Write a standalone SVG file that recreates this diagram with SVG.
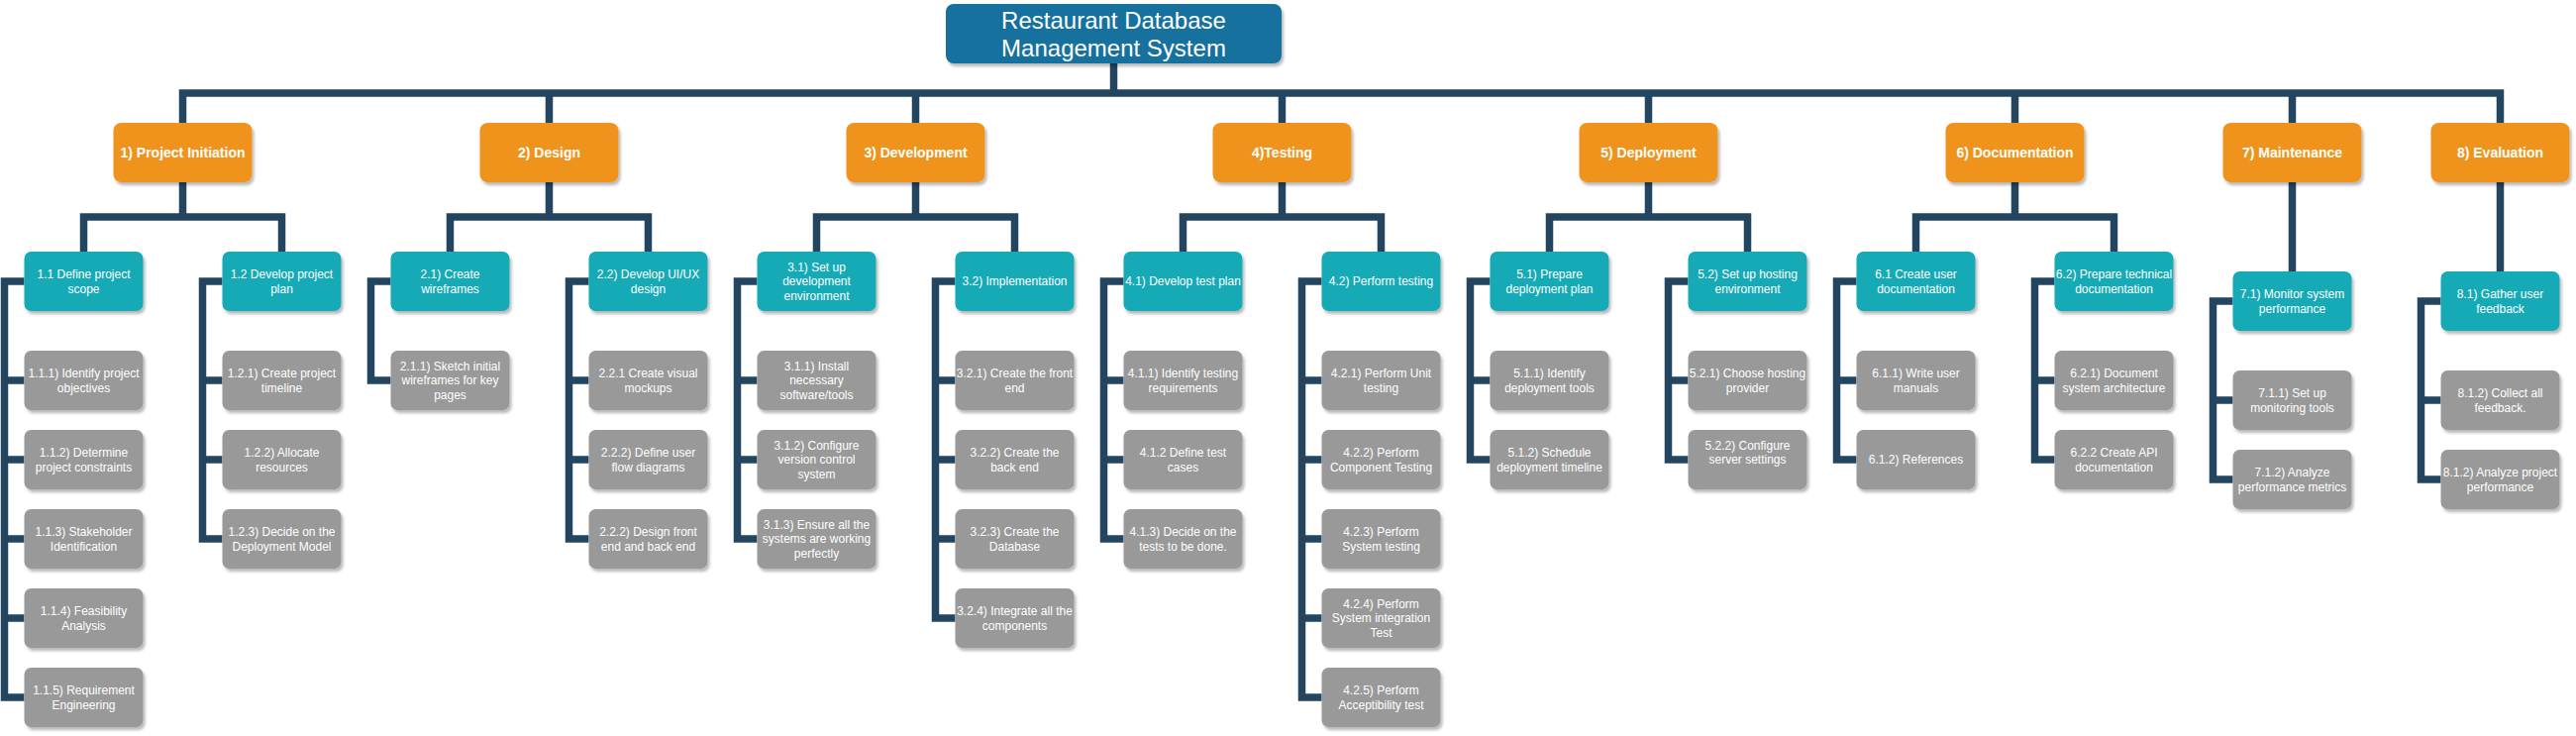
<svg xmlns="http://www.w3.org/2000/svg" width="2601" height="743" viewBox="0 0 2601 743">
<defs>
<filter id="sh" x="-20%" y="-20%" width="140%" height="150%">
<feDropShadow dx="2" dy="3" stdDeviation="1.6" flood-color="#000" flood-opacity="0.28"/>
</filter>
<style>
.title{fill:#12719e;filter:url(#sh)}
.l1{fill:#f0931f;filter:url(#sh)}
.l2{fill:#13aab7;filter:url(#sh)}
.l3{fill:#999999;filter:url(#sh)}
text{font-family:"Liberation Sans",Arial,sans-serif;fill:#fff;text-anchor:middle}
.tt{font-size:24px}
.tb{font-size:14px;font-weight:bold}
.ts{font-size:12px}
.c{fill:none;stroke:#234560;stroke-width:7.5;stroke-linejoin:miter;stroke-linecap:butt}
</style>
</defs>
<rect width="2601" height="743" fill="#fff"/>
<g id="connectors" class="c">
<path d="M1124.5 64V94"/>
<path d="M184.5 124V94H2524.5V124"/>
<path d="M554.5 94V124M924.5 94V124M1294.5 94V124M1664.5 94V124M2034.5 94V124M2314.5 94V124"/>
<path d="M184.5 184V219M84.5 254V219H284.5V254"/>
<path d="M554.5 184V219M454.5 254V219H654.5V254"/>
<path d="M924.5 184V219M824.5 254V219H1024.5V254"/>
<path d="M1294.5 184V219M1194.5 254V219H1394.5V254"/>
<path d="M1664.5 184V219M1564.5 254V219H1764.5V254"/>
<path d="M2034.5 184V219M1934.5 254V219H2134.5V254"/>
<path d="M2314.5 184V274M2524.5 184V274"/>
<path d="M24.5 284H4.5V704H24.5M4.5 384H24.5M4.5 464H24.5M4.5 544H24.5M4.5 624H24.5"/>
<path d="M224.5 284H204.5V544H224.5M204.5 384H224.5M204.5 464H224.5"/>
<path d="M394.5 284H374.5V384H394.5"/>
<path d="M594.5 284H574.5V544H594.5M574.5 384H594.5M574.5 464H594.5"/>
<path d="M764.5 284H744.5V544H764.5M744.5 384H764.5M744.5 464H764.5"/>
<path d="M964.5 284H944.5V624H964.5M944.5 384H964.5M944.5 464H964.5M944.5 544H964.5"/>
<path d="M1134.5 284H1114.5V544H1134.5M1114.5 384H1134.5M1114.5 464H1134.5"/>
<path d="M1334.5 284H1314.5V704H1334.5M1314.5 384H1334.5M1314.5 464H1334.5M1314.5 544H1334.5M1314.5 624H1334.5"/>
<path d="M1504.5 284H1484.5V464H1504.5M1484.5 384H1504.5"/>
<path d="M1704.5 284H1684.5V464H1704.5M1684.5 384H1704.5"/>
<path d="M1874.5 284H1854.5V464H1874.5M1854.5 384H1874.5"/>
<path d="M2074.5 284H2054.5V464H2074.5M2054.5 384H2074.5"/>
<path d="M2254.5 304H2234.5V484H2254.5M2234.5 404H2254.5"/>
<path d="M2464.5 304H2444.5V484H2464.5M2444.5 404H2464.5"/>
</g>
<g id="root"><rect class="title" x="955" y="4" width="339" height="60" rx="8"/><text class="tt" x="1124.5"><tspan x="1124.5" y="28.6">Restaurant Database</tspan><tspan x="1124.5" y="56.6">Management System</tspan></text></g>
<g id="n1"><rect class="l1" x="114.5" y="124" width="140" height="60" rx="8"/><text class="tb" x="184.5" y="159">1) Project Initiation</text></g>
<g id="n2"><rect class="l1" x="484.5" y="124" width="140" height="60" rx="8"/><text class="tb" x="554.5" y="159">2) Design</text></g>
<g id="n3"><rect class="l1" x="854.5" y="124" width="140" height="60" rx="8"/><text class="tb" x="924.5" y="159">3) Development</text></g>
<g id="n4"><rect class="l1" x="1224.5" y="124" width="140" height="60" rx="8"/><text class="tb" x="1294.5" y="159">4)Testing</text></g>
<g id="n5"><rect class="l1" x="1594.5" y="124" width="140" height="60" rx="8"/><text class="tb" x="1664.5" y="159">5) Deployment</text></g>
<g id="n6"><rect class="l1" x="1964.5" y="124" width="140" height="60" rx="8"/><text class="tb" x="2034.5" y="159">6) Documentation</text></g>
<g id="n7"><rect class="l1" x="2244.5" y="124" width="140" height="60" rx="8"/><text class="tb" x="2314.5" y="159">7) Maintenance</text></g>
<g id="n8"><rect class="l1" x="2454.5" y="124" width="140" height="60" rx="8"/><text class="tb" x="2524.5" y="159">8) Evaluation</text></g>

<g id="n1_1"><rect class="l2" x="24.5" y="254" width="120" height="60" rx="7"/><text class="ts"><tspan x="84.5" y="281">1.1 Define project</tspan><tspan x="84.5" y="295.5">scope</tspan></text></g>
<g id="n1_1_1"><rect class="l3" x="24.5" y="354" width="120" height="60" rx="7"/><text class="ts"><tspan x="84.5" y="381">1.1.1) Identify project</tspan><tspan x="84.5" y="395.5">objectives</tspan></text></g>
<g id="n1_1_2"><rect class="l3" x="24.5" y="434" width="120" height="60" rx="7"/><text class="ts"><tspan x="84.5" y="461">1.1.2) Determine</tspan><tspan x="84.5" y="475.5">project constraints</tspan></text></g>
<g id="n1_1_3"><rect class="l3" x="24.5" y="514" width="120" height="60" rx="7"/><text class="ts"><tspan x="84.5" y="541">1.1.3) Stakeholder</tspan><tspan x="84.5" y="555.5">Identification</tspan></text></g>
<g id="n1_1_4"><rect class="l3" x="24.5" y="594" width="120" height="60" rx="7"/><text class="ts"><tspan x="84.5" y="621">1.1.4) Feasibility</tspan><tspan x="84.5" y="635.5">Analysis</tspan></text></g>
<g id="n1_1_5"><rect class="l3" x="24.5" y="674" width="120" height="60" rx="7"/><text class="ts"><tspan x="84.5" y="701">1.1.5) Requirement</tspan><tspan x="84.5" y="715.5">Engineering</tspan></text></g>

<g id="n1_2"><rect class="l2" x="224.5" y="254" width="120" height="60" rx="7"/><text class="ts"><tspan x="284.5" y="281">1.2 Develop project</tspan><tspan x="284.5" y="295.5">plan</tspan></text></g>
<g id="n1_2_1"><rect class="l3" x="224.5" y="354" width="120" height="60" rx="7"/><text class="ts"><tspan x="284.5" y="381">1.2.1) Create project</tspan><tspan x="284.5" y="395.5">timeline</tspan></text></g>
<g id="n1_2_2"><rect class="l3" x="224.5" y="434" width="120" height="60" rx="7"/><text class="ts"><tspan x="284.5" y="461">1.2.2) Allocate</tspan><tspan x="284.5" y="475.5">resources</tspan></text></g>
<g id="n1_2_3"><rect class="l3" x="224.5" y="514" width="120" height="60" rx="7"/><text class="ts"><tspan x="284.5" y="541">1.2.3) Decide on the</tspan><tspan x="284.5" y="555.5">Deployment Model</tspan></text></g>

<g id="n2_1"><rect class="l2" x="394.5" y="254" width="120" height="60" rx="7"/><text class="ts"><tspan x="454.5" y="281">2.1) Create</tspan><tspan x="454.5" y="295.5">wireframes</tspan></text></g>
<g id="n2_1_1"><rect class="l3" x="394.5" y="354" width="120" height="60" rx="7"/><text class="ts"><tspan x="454.5" y="373.8">2.1.1) Sketch initial</tspan><tspan x="454.5" y="388.3">wireframes for key</tspan><tspan x="454.5" y="402.8">pages</tspan></text></g>

<g id="n2_2"><rect class="l2" x="594.5" y="254" width="120" height="60" rx="7"/><text class="ts"><tspan x="654.5" y="281">2.2) Develop UI/UX</tspan><tspan x="654.5" y="295.5">design</tspan></text></g>
<g id="n2_2_1"><rect class="l3" x="594.5" y="354" width="120" height="60" rx="7"/><text class="ts"><tspan x="654.5" y="381">2.2.1 Create visual</tspan><tspan x="654.5" y="395.5">mockups</tspan></text></g>
<g id="n2_2_2"><rect class="l3" x="594.5" y="434" width="120" height="60" rx="7"/><text class="ts"><tspan x="654.5" y="461">2.2.2) Define user</tspan><tspan x="654.5" y="475.5">flow diagrams</tspan></text></g>
<g id="n2_2_3"><rect class="l3" x="594.5" y="514" width="120" height="60" rx="7"/><text class="ts"><tspan x="654.5" y="541">2.2.2) Design front</tspan><tspan x="654.5" y="555.5">end and back end</tspan></text></g>

<g id="n3_1"><rect class="l2" x="764.5" y="254" width="120" height="60" rx="7"/><text class="ts"><tspan x="824.5" y="273.8">3.1) Set up</tspan><tspan x="824.5" y="288.3">development</tspan><tspan x="824.5" y="302.8">environment</tspan></text></g>
<g id="n3_1_1"><rect class="l3" x="764.5" y="354" width="120" height="60" rx="7"/><text class="ts"><tspan x="824.5" y="373.8">3.1.1) Install</tspan><tspan x="824.5" y="388.3">necessary</tspan><tspan x="824.5" y="402.8">software/tools</tspan></text></g>
<g id="n3_1_2"><rect class="l3" x="764.5" y="434" width="120" height="60" rx="7"/><text class="ts"><tspan x="824.5" y="453.8">3.1.2) Configure</tspan><tspan x="824.5" y="468.3">version control</tspan><tspan x="824.5" y="482.8">system</tspan></text></g>
<g id="n3_1_3"><rect class="l3" x="764.5" y="514" width="120" height="60" rx="7"/><text class="ts"><tspan x="824.5" y="533.8">3.1.3) Ensure all the</tspan><tspan x="824.5" y="548.3">systems are working</tspan><tspan x="824.5" y="562.8">perfectly</tspan></text></g>

<g id="n3_2"><rect class="l2" x="964.5" y="254" width="120" height="60" rx="7"/><text class="ts" x="1024.5" y="288.3">3.2) Implementation</text></g>
<g id="n3_2_1"><rect class="l3" x="964.5" y="354" width="120" height="60" rx="7"/><text class="ts"><tspan x="1024.5" y="381">3.2.1) Create the front</tspan><tspan x="1024.5" y="395.5">end</tspan></text></g>
<g id="n3_2_2"><rect class="l3" x="964.5" y="434" width="120" height="60" rx="7"/><text class="ts"><tspan x="1024.5" y="461">3.2.2) Create the</tspan><tspan x="1024.5" y="475.5">back end</tspan></text></g>
<g id="n3_2_3"><rect class="l3" x="964.5" y="514" width="120" height="60" rx="7"/><text class="ts"><tspan x="1024.5" y="541">3.2.3) Create the</tspan><tspan x="1024.5" y="555.5">Database</tspan></text></g>
<g id="n3_2_4"><rect class="l3" x="964.5" y="594" width="120" height="60" rx="7"/><text class="ts"><tspan x="1024.5" y="621">3.2.4) Integrate all the</tspan><tspan x="1024.5" y="635.5">components</tspan></text></g>

<g id="n4_1"><rect class="l2" x="1134.5" y="254" width="120" height="60" rx="7"/><text class="ts" x="1194.5" y="288.3">4.1) Develop test plan</text></g>
<g id="n4_1_1"><rect class="l3" x="1134.5" y="354" width="120" height="60" rx="7"/><text class="ts"><tspan x="1194.5" y="381">4.1.1) Identify testing</tspan><tspan x="1194.5" y="395.5">requirements</tspan></text></g>
<g id="n4_1_2"><rect class="l3" x="1134.5" y="434" width="120" height="60" rx="7"/><text class="ts"><tspan x="1194.5" y="461">4.1.2 Define test</tspan><tspan x="1194.5" y="475.5">cases</tspan></text></g>
<g id="n4_1_3"><rect class="l3" x="1134.5" y="514" width="120" height="60" rx="7"/><text class="ts"><tspan x="1194.5" y="541">4.1.3) Decide on the</tspan><tspan x="1194.5" y="555.5">tests to be done.</tspan></text></g>

<g id="n4_2"><rect class="l2" x="1334.5" y="254" width="120" height="60" rx="7"/><text class="ts" x="1394.5" y="288.3">4.2) Perform testing</text></g>
<g id="n4_2_1"><rect class="l3" x="1334.5" y="354" width="120" height="60" rx="7"/><text class="ts"><tspan x="1394.5" y="381">4.2.1) Perform Unit</tspan><tspan x="1394.5" y="395.5">testing</tspan></text></g>
<g id="n4_2_2"><rect class="l3" x="1334.5" y="434" width="120" height="60" rx="7"/><text class="ts"><tspan x="1394.5" y="461">4.2.2) Perform</tspan><tspan x="1394.5" y="475.5">Component Testing</tspan></text></g>
<g id="n4_2_3"><rect class="l3" x="1334.5" y="514" width="120" height="60" rx="7"/><text class="ts"><tspan x="1394.5" y="541">4.2.3) Perform</tspan><tspan x="1394.5" y="555.5">System testing</tspan></text></g>
<g id="n4_2_4"><rect class="l3" x="1334.5" y="594" width="120" height="60" rx="7"/><text class="ts"><tspan x="1394.5" y="613.8">4.2.4) Perform</tspan><tspan x="1394.5" y="628.3">System integration</tspan><tspan x="1394.5" y="642.8">Test</tspan></text></g>
<g id="n4_2_5"><rect class="l3" x="1334.5" y="674" width="120" height="60" rx="7"/><text class="ts"><tspan x="1394.5" y="701">4.2.5) Perform</tspan><tspan x="1394.5" y="715.5">Acceptibility test</tspan></text></g>

<g id="n5_1"><rect class="l2" x="1504.5" y="254" width="120" height="60" rx="7"/><text class="ts"><tspan x="1564.5" y="281">5.1) Prepare</tspan><tspan x="1564.5" y="295.5">deployment plan</tspan></text></g>
<g id="n5_1_1"><rect class="l3" x="1504.5" y="354" width="120" height="60" rx="7"/><text class="ts"><tspan x="1564.5" y="381">5.1.1) Identify</tspan><tspan x="1564.5" y="395.5">deployment tools</tspan></text></g>
<g id="n5_1_2"><rect class="l3" x="1504.5" y="434" width="120" height="60" rx="7"/><text class="ts"><tspan x="1564.5" y="461">5.1.2) Schedule</tspan><tspan x="1564.5" y="475.5">deployment timeline</tspan></text></g>

<g id="n5_2"><rect class="l2" x="1704.5" y="254" width="120" height="60" rx="7"/><text class="ts"><tspan x="1764.5" y="281">5.2) Set up hosting</tspan><tspan x="1764.5" y="295.5">environment</tspan></text></g>
<g id="n5_2_1"><rect class="l3" x="1704.5" y="354" width="120" height="60" rx="7"/><text class="ts"><tspan x="1764.5" y="381">5.2.1) Choose hosting</tspan><tspan x="1764.5" y="395.5">provider</tspan></text></g>
<g id="n5_2_2"><rect class="l3" x="1704.5" y="434" width="120" height="60" rx="7"/><text class="ts"><tspan x="1764.5" y="453.8">5.2.2) Configure</tspan><tspan x="1764.5" y="468.3">server settings</tspan></text></g>

<g id="n6_1"><rect class="l2" x="1874.5" y="254" width="120" height="60" rx="7"/><text class="ts"><tspan x="1934.5" y="281">6.1 Create user</tspan><tspan x="1934.5" y="295.5">documentation</tspan></text></g>
<g id="n6_1_1"><rect class="l3" x="1874.5" y="354" width="120" height="60" rx="7"/><text class="ts"><tspan x="1934.5" y="381">6.1.1) Write user</tspan><tspan x="1934.5" y="395.5">manuals</tspan></text></g>
<g id="n6_1_2"><rect class="l3" x="1874.5" y="434" width="120" height="60" rx="7"/><text class="ts" x="1934.5" y="468.3">6.1.2) References</text></g>

<g id="n6_2"><rect class="l2" x="2074.5" y="254" width="120" height="60" rx="7"/><text class="ts"><tspan x="2134.5" y="281">6.2) Prepare technical</tspan><tspan x="2134.5" y="295.5">documentation</tspan></text></g>
<g id="n6_2_1"><rect class="l3" x="2074.5" y="354" width="120" height="60" rx="7"/><text class="ts"><tspan x="2134.5" y="381">6.2.1) Document</tspan><tspan x="2134.5" y="395.5">system architecture</tspan></text></g>
<g id="n6_2_2"><rect class="l3" x="2074.5" y="434" width="120" height="60" rx="7"/><text class="ts"><tspan x="2134.5" y="461">6.2.2 Create API</tspan><tspan x="2134.5" y="475.5">documentation</tspan></text></g>

<g id="n7_1"><rect class="l2" x="2254.5" y="274" width="120" height="60" rx="7"/><text class="ts"><tspan x="2314.5" y="301">7.1) Monitor system</tspan><tspan x="2314.5" y="315.5">performance</tspan></text></g>
<g id="n7_1_1"><rect class="l3" x="2254.5" y="374" width="120" height="60" rx="7"/><text class="ts"><tspan x="2314.5" y="401">7.1.1) Set up</tspan><tspan x="2314.5" y="415.5">monitoring tools</tspan></text></g>
<g id="n7_1_2"><rect class="l3" x="2254.5" y="454" width="120" height="60" rx="7"/><text class="ts"><tspan x="2314.5" y="481">7.1.2) Analyze</tspan><tspan x="2314.5" y="495.5">performance metrics</tspan></text></g>

<g id="n8_1"><rect class="l2" x="2464.5" y="274" width="120" height="60" rx="7"/><text class="ts"><tspan x="2524.5" y="301">8.1) Gather user</tspan><tspan x="2524.5" y="315.5">feedback</tspan></text></g>
<g id="n8_1_1"><rect class="l3" x="2464.5" y="374" width="120" height="60" rx="7"/><text class="ts"><tspan x="2524.5" y="401">8.1.2) Collect all</tspan><tspan x="2524.5" y="415.5">feedback.</tspan></text></g>
<g id="n8_1_2"><rect class="l3" x="2464.5" y="454" width="120" height="60" rx="7"/><text class="ts"><tspan x="2524.5" y="481">8.1.2) Analyze project</tspan><tspan x="2524.5" y="495.5">performance</tspan></text></g>
</svg>
